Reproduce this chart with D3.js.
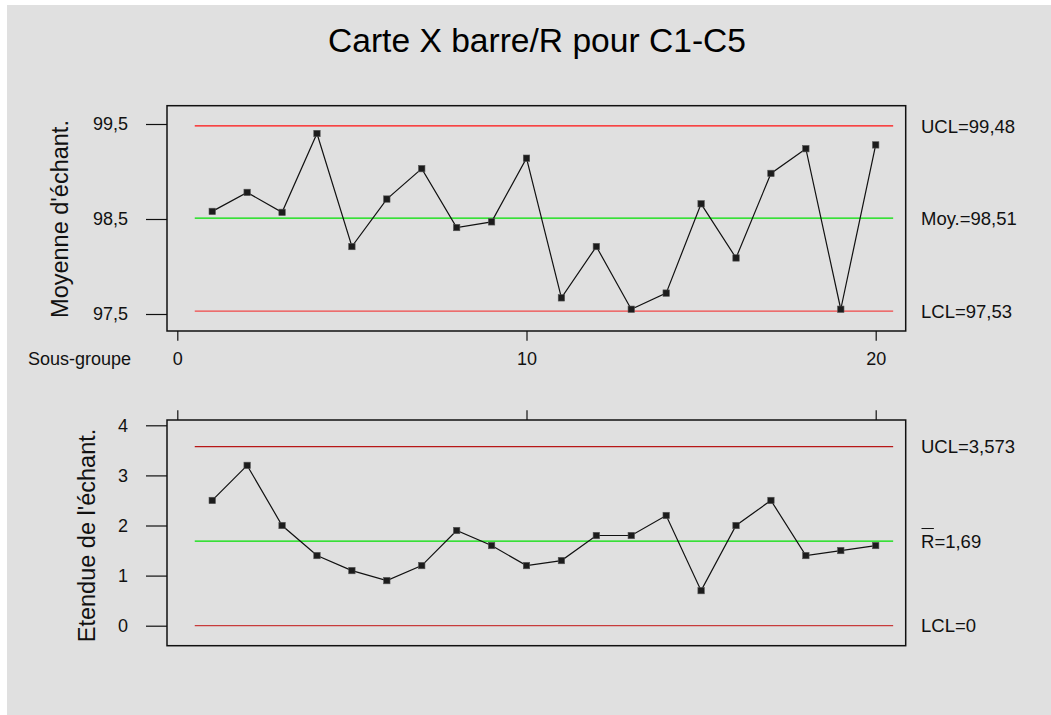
<!DOCTYPE html>
<html>
<head>
<meta charset="utf-8">
<script src="https://d3js.org/d3.v7.min.js"></script>
<style>
  html, body { margin: 0; padding: 0; background: #ffffff; }
  svg { display: block; font-family: "Liberation Sans", Arial, sans-serif; }
</style>
</head>
<body>
<svg id="chart" width="1051" height="715"></svg>
<script>
// Subgroup numbers and statistics for the X-bar / R control chart
const subgroups = d3.range(1, 21);
const sampleMeans = [98.58, 98.78, 98.57, 99.40, 98.21, 98.71, 99.03, 98.41, 98.47, 99.14,
                     97.67, 98.21, 97.55, 97.72, 98.66, 98.09, 98.98, 99.24, 97.55, 99.28];
const sampleRanges = [2.5, 3.2, 2.0, 1.4, 1.1, 0.9, 1.2, 1.9, 1.6, 1.2,
                      1.3, 1.8, 1.8, 2.2, 0.7, 2.0, 2.5, 1.4, 1.5, 1.6];

// Control limits
const meanLimits = { ucl: 99.48, cl: 98.51, lcl: 97.53 };
const rangeLimits = { ucl: 3.573, cl: 1.69, lcl: 0 };

// Axis ticks
const xTicks = [0, 10, 20];
const meanTicks = [97.5, 98.5, 99.5];
const rangeTicks = [0, 1, 2, 3, 4];

const title = "Carte X barre/R pour C1-C5";
const meanLabel = "Moyenne d'échant.";
const rangeLabel = "Etendue de l'échant.";
const xLabel = "Sous-groupe";

const fr = d3.formatLocale({ decimal: ",", thousands: " ", grouping: [3], currency: ["", " €"] });
const fmt1 = fr.format(".1f");

const svg = d3.select("#chart");

// Background panel
svg.append("rect").attr("x", 7).attr("y", 5).attr("width", 1044).attr("height", 710)
  .attr("fill", "#e0e0e0");

// Title
svg.append("text").attr("x", 537).attr("y", 52)
  .attr("text-anchor", "middle").attr("font-size", 33.6).attr("fill", "#000")
  .text(title);

const frameL = 167, frameR = 905.7;
const x = d3.scaleLinear().domain([0, 20]).range([177.3, 875.7]);

const yMean = d3.scaleLinear().domain([97.5, 99.5]).range([314, 124]);
const yRange = d3.scaleLinear().domain([0, 4]).range([625.7, 425.3]);

function panel(opts) {
  const g = svg.append("g");
  // Frame
  g.append("rect").attr("x", frameL).attr("y", opts.top)
    .attr("width", frameR - frameL).attr("height", opts.bottom - opts.top)
    .attr("fill", "none").attr("stroke", "#111").attr("stroke-width", 1.5);

  // Y axis
  const ya = g.append("g").attr("transform", `translate(${frameL},0)`)
    .call(d3.axisLeft(opts.y).tickValues(opts.ticks).tickSize(21).tickPadding(18)
      .tickFormat(opts.tickFormat));
  ya.select(".domain").remove();
  ya.selectAll(".tick line").attr("stroke", "#111").attr("stroke-width", 1.2);
  ya.selectAll(".tick text").attr("font-size", 18).attr("fill", "#111")
    .attr("font-family", "Liberation Sans, Arial, sans-serif");

  // Y axis title
  g.append("text")
    .attr("transform", `translate(${opts.labelX},${(opts.y.range()[0] + opts.y.range()[1]) / 2 + opts.labelShift}) rotate(-90)`)
    .attr("text-anchor", "middle").attr("font-size", 23.5).attr("fill", "#111")
    .text(opts.label);

  // Control limit lines
  const lim = opts.limits;
  [["ucl", opts.uclColor], ["cl", "#00e000"], ["lcl", opts.lclColor]].forEach(([k, c]) => {
    g.append("line").attr("x1", x(0.5)).attr("x2", x(20.5))
      .attr("y1", opts.y(lim[k])).attr("y2", opts.y(lim[k]))
      .attr("stroke", c).attr("stroke-width", 1.3);
  });

  // Data line and markers
  const line = d3.line().x((d, i) => x(subgroups[i])).y(d => opts.y(d));
  g.append("path").datum(opts.values).attr("d", line)
    .attr("fill", "none").attr("stroke", "#111").attr("stroke-width", 1.2);
  g.selectAll("rect.pt").data(opts.values).join("rect").attr("class", "pt")
    .attr("x", (d, i) => x(subgroups[i]) - 3.2).attr("y", d => opts.y(d) - 3.2)
    .attr("width", 6.4).attr("height", 6.4)
    .attr("fill", "#1c1c1c").attr("stroke", "#555").attr("stroke-width", 0.6);

  // Right-hand limit labels
  const tx = 921;
  g.append("text").attr("x", tx).attr("y", opts.y(lim.ucl)).attr("dy", "0.36em")
    .attr("font-size", 18.5).attr("fill", "#111").text(opts.uclText);
  g.append("text").attr("x", tx).attr("y", opts.y(lim.lcl)).attr("dy", "0.36em")
    .attr("font-size", 18.5).attr("fill", "#111").text(opts.lclText);
  opts.clLabel(g, tx, opts.y(lim.cl));
  return g;
}

// Upper panel: subgroup means
panel({
  top: 105.7, bottom: 331, y: yMean, ticks: meanTicks, tickFormat: fmt1,
  label: meanLabel, labelX: 68, labelShift: 0,
  limits: meanLimits, values: sampleMeans,
  uclColor: "#ff1010", lclColor: "#f04848",
  uclText: "UCL=" + fr.format(".2f")(meanLimits.ucl),
  lclText: "LCL=" + fr.format(".2f")(meanLimits.lcl),
  clLabel: (g, tx, yy) => g.append("text").attr("x", tx).attr("y", yy).attr("dy", "0.36em")
    .attr("font-size", 18.5).attr("fill", "#111").text("Moy.=" + fr.format(".2f")(meanLimits.cl))
});

// Lower panel: subgroup ranges
panel({
  top: 420, bottom: 645.7, y: yRange, ticks: rangeTicks, tickFormat: d3.format("d"),
  label: rangeLabel, labelX: 95, labelShift: 10,
  limits: rangeLimits, values: sampleRanges,
  uclColor: "#b81818", lclColor: "#c83c3c",
  uclText: "UCL=" + fr.format(".3f")(rangeLimits.ucl),
  lclText: "LCL=" + rangeLimits.lcl,
  clLabel: (g, tx, yy) => {
    const r = g.append("text").attr("x", tx).attr("y", yy).attr("dy", "0.36em")
      .attr("font-size", 18.5).attr("fill", "#111");
    r.append("tspan").attr("class", "rbar").text("R");
    r.append("tspan").text("=" + fr.format(".2f")(rangeLimits.cl));
    const w = r.select(".rbar").node().getComputedTextLength();
    g.append("line").attr("x1", tx + 0.5).attr("x2", tx + w - 0.5)
      .attr("y1", yy - 12.5).attr("y2", yy - 12.5)
      .attr("stroke", "#111").attr("stroke-width", 1);
  }
});

// Subgroup axis between the panels
const xa = svg.append("g").attr("transform", "translate(0,331)")
  .call(d3.axisBottom(x).tickValues(xTicks).tickSize(9.7).tickPadding(11.5).tickFormat(d3.format("d")));
xa.select(".domain").remove();
xa.selectAll(".tick line").attr("stroke", "#111").attr("stroke-width", 1.2);
xa.selectAll(".tick text").attr("font-size", 18).attr("fill", "#111")
  .attr("font-family", "Liberation Sans, Arial, sans-serif");

svg.append("text").attr("x", 28).attr("y", 365).attr("font-size", 18).attr("fill", "#111")
  .text(xLabel);

// Tick marks on top of the lower panel
const xb = svg.append("g").attr("transform", "translate(0,420)")
  .call(d3.axisTop(x).tickValues(xTicks).tickSize(9.7).tickFormat(""));
xb.select(".domain").remove();
xb.selectAll(".tick line").attr("stroke", "#111").attr("stroke-width", 1.2);
</script>
</body>
</html>
